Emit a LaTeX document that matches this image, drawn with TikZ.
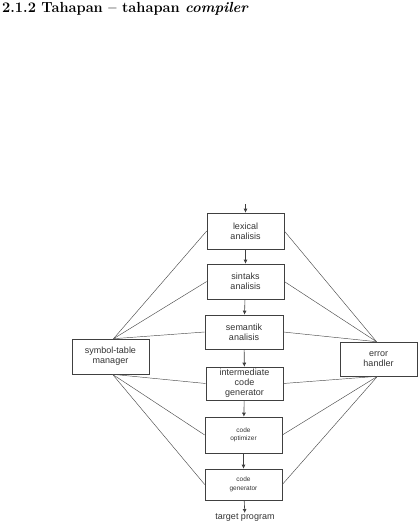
\documentclass[tikz,border=0pt]{standalone}
\usepackage{fontspec}
\setsansfont{Liberation Sans}
\usetikzlibrary{arrows.meta}
\begin{document}
\begin{tikzpicture}[x=1pt,y=-1pt,
  box/.style={draw=black!75,line width=0.6pt,minimum width=77pt,inner sep=1pt,align=center,font=\sffamily\fontsize{9}{10}\selectfont,text=black!80},
  smallbox/.style={box,font=\sffamily\fontsize{6.5}{8.5}\selectfont},
  link/.style={draw=black!70,line width=0.45pt},
  flow/.style={draw=black!75,line width=0.6pt,-{Latex[length=4pt,width=4pt]}}]
\useasboundingbox (0,0) rectangle (419,529);
\node[anchor=north west,inner sep=0pt,font=\bfseries\fontsize{14.6}{16}\selectfont] (title) at (2,2) {2.1.2 Tahapan -- tahapan \textit{compiler}};
\node[box,minimum height=36pt] (lex) at (245.5,231) {lexical\\analisis};
\node[box,minimum height=35pt] (sin) at (245.5,281.5) {sintaks\\analisis};
\node[box,minimum width=78pt,minimum height=34pt] (sem) at (244,332) {semantik\\analisis};
\node[box,minimum height=33pt] (int) at (244.5,383.5) {intermediate\\code\\generator};
\node[smallbox,minimum height=36pt] (opt) at (243.5,435) {code\\optimizer};
\node[smallbox,minimum height=31pt] (gen) at (243.5,484.5) {code\\generator};
\node[box,minimum height=35pt] (sym) at (110.5,356.5) {symbol-table\\manager};
\node[box,minimum height=34pt] (err) at (378.5,359) {error\\handler};
\node[font=\sffamily\fontsize{9}{10}\selectfont,text=black!80,inner sep=1pt] (tgt) at (245,518) {target program};
\coordinate (in) at (245.5,204);
\draw[flow] (in) -- (lex);
\draw[flow] (lex) -- (sin);
\draw[flow] (sin) -- (sem);
\draw[flow] (sem) -- (int);
\draw[flow] (int) -- (opt);
\draw[flow] (opt) -- (gen);
\draw[flow] (gen) -- (tgt);
\foreach \n in {lex,sin,sem} {
  \draw[link] ([xshift=3pt]sym.north) -- (\n.west);
  \draw[link] ([xshift=-2pt]err.north) -- (\n.east);
}
\foreach \n in {int,opt,gen} {
  \draw[link] ([xshift=2pt]sym.south) -- (\n.west);
  \draw[link] ([xshift=-1pt]err.south) -- (\n.east);
}
\end{tikzpicture}
\end{document}
